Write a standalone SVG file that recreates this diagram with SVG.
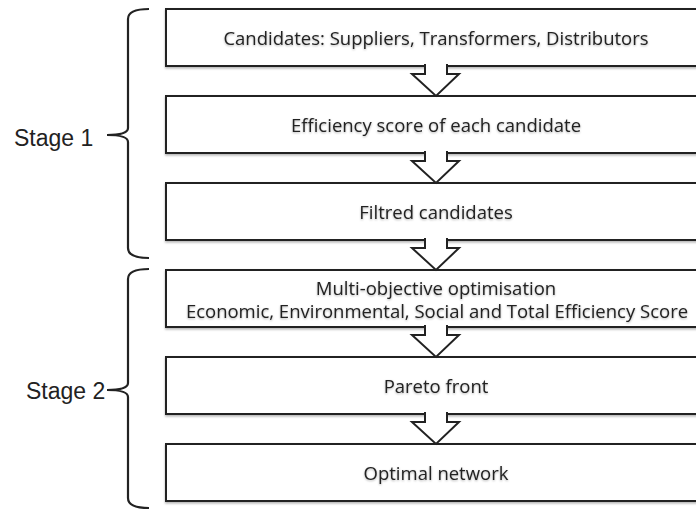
<svg xmlns="http://www.w3.org/2000/svg" width="696" height="512" viewBox="0 0 696 512">
<defs>
<filter id="sh" x="-5%" y="-20%" width="110%" height="150%">
<feDropShadow dx="0" dy="1.5" stdDeviation="1" flood-color="#000" flood-opacity="0.3"/>
</filter>
<filter id="tsh" x="-5%" y="-30%" width="110%" height="170%">
<feDropShadow dx="0" dy="1" stdDeviation="0.8" flood-color="#000" flood-opacity="0.3"/>
</filter>
</defs>
<style>
.box{fill:#fff;stroke:#222;stroke-width:2;filter:url(#sh)}
.t{font-family:"Open Sans",sans-serif;font-size:18.5px;fill:#222;text-anchor:middle;filter:url(#tsh)}
.arr{fill:#fff;stroke:#222;stroke-width:2;stroke-linejoin:miter}
.br{fill:none;stroke:#222;stroke-width:2.2}
.st{font-family:"Liberation Sans",Arial,sans-serif;font-size:23px;fill:#222}
</style>
<rect width="696" height="512" fill="#fff"/>
<g id="n1"><rect class="box" x="166" y="9" width="560" height="57"/><text class="t" x="436" y="45">Candidates: Suppliers, Transformers, Distributors</text></g>
<g id="n2"><rect class="box" x="166" y="96" width="560" height="57"/><text class="t" x="436" y="132">Efficiency score of each candidate</text></g>
<g id="n3"><rect class="box" x="166" y="183" width="560" height="57"/><text class="t" x="436" y="219">Filtred candidates</text></g>
<g id="n4"><rect class="box" x="166" y="270" width="560" height="57"/><text class="t" x="436" y="295">Multi-objective optimisation</text><text class="t" x="437" y="318">Economic, Environmental, Social and Total Efficiency Score</text></g>
<g id="n5"><rect class="box" x="166" y="357" width="560" height="57"/><text class="t" x="436" y="393">Pareto front</text></g>
<g id="n6"><rect class="box" x="166" y="444" width="560" height="57"/><text class="t" x="436" y="480">Optimal network</text></g>
<g id="connectors">
<path class="arr" d="M425,64 V74 H412 L436,96 L459,74 H447 V64"/>
<path class="arr" d="M425,151 V161 H412 L436,183 L459,161 H447 V151"/>
<path class="arr" d="M425,238 V248 H412 L436,270 L459,248 H447 V238"/>
<path class="arr" d="M425,325 V335 H412 L436,357 L459,335 H447 V325"/>
<path class="arr" d="M425,412 V422 H412 L436,444 L459,422 H447 V412"/>
</g>
<g id="stage1">
<path class="br" d="M149,9 Q128,9 128,19 L128,128 Q128,135 107,135 Q128,135 128,142 L128,248 Q128,258 149,258"/>
<text class="st" x="14" y="146">Stage 1</text>
</g>
<g id="stage2">
<path class="br" d="M149,269 Q128,269 128,279 L128,383 Q128,390 107,390 Q128,390 128,397 L128,498 Q128,508 149,508"/>
<text class="st" x="26" y="399">Stage 2</text>
</g>
</svg>
